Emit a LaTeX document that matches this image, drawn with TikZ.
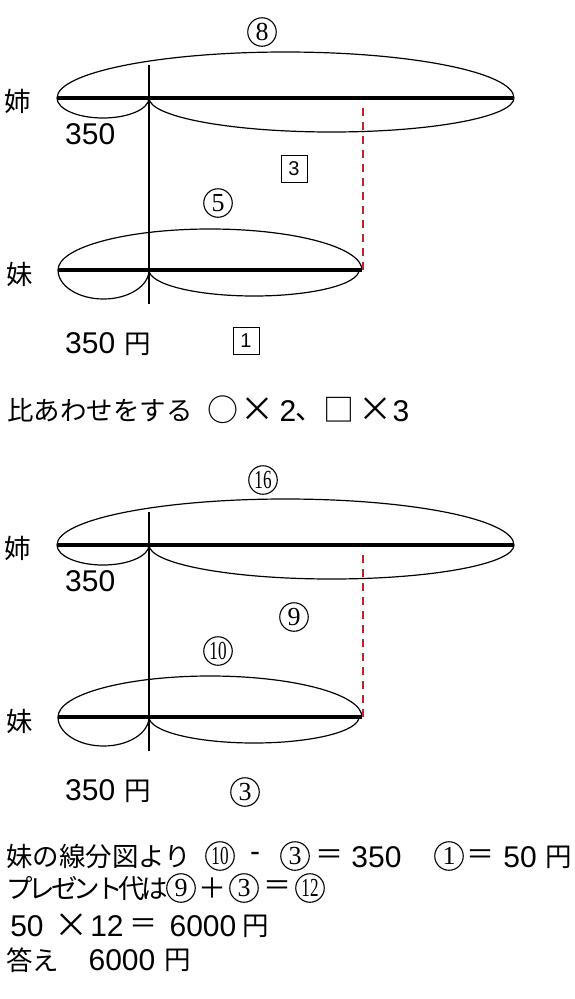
\documentclass[tikz,border=0pt]{standalone}
\usepackage{fontspec}
\usepackage{graphicx}
\setmainfont{Liberation Sans}
\newfontfamily\jp{Noto Sans CJK JP}
\newfontfamily\rmser{Liberation Serif}
\newcommand{\twod}[1]{\scalebox{0.66}[1]{#1}}
\definecolor{dashred}{RGB}{196,32,48}
\begin{document}
\begin{tikzpicture}[x=1pt,y=-1pt,
  barline/.style={line width=4pt},
  arcline/.style={line width=1.2pt},
  vline/.style={line width=1.6pt},
  reddash/.style={draw=dashred,line width=2pt,dash pattern=on 8pt off 6pt},
  num/.style={font=\fontsize{30}{32}\selectfont,inner sep=0pt},
  jpt/.style={font=\jp\fontsize{26.5}{28}\selectfont,inner sep=0pt},
  circ/.style={circle,draw,line width=1.1pt,minimum size=28.5pt,inner sep=0pt,font=\rmser\fontsize{26}{26}\selectfont},
  sym/.style={font=\jp\fontsize{28}{30}\selectfont,inner sep=0pt},
  shp/.style={font=\jp\fontsize{31}{33}\selectfont,inner sep=0pt},
  bigx/.style={font=\jp\fontsize{34}{36}\selectfont,inner sep=0pt},
  boxn/.style={draw,line width=0.8pt,minimum width=26pt,minimum height=27pt,inner sep=0pt,font=\fontsize{20}{21}\selectfont}]
\useasboundingbox[fill=white] (0,0) rectangle (574,999);

\foreach \k/\d in {1/0,2/447}{
 \begin{scope}[shift={(0,\d)}]
  \coordinate (A\k) at (57,98);  \coordinate (M\k) at (149,98);  \coordinate (E\k) at (514,98);
  \coordinate (B\k) at (58,270); \coordinate (N\k) at (149,270); \coordinate (F\k) at (362,270);
  \coordinate (T\k) at (149,65); \coordinate (U\k) at (149,304);
  \coordinate (R\k) at (363,108); \coordinate (S\k) at (363,270);
  \draw[arcline] (A\k) arc[start angle=180,end angle=360,x radius=228.5,y radius=46];
  \draw[arcline] (A\k) arc[start angle=180,end angle=0,x radius=46,y radius=20];
  \draw[arcline] (M\k) arc[start angle=180,end angle=0,x radius=182.5,y radius=34];
  \draw[arcline] (B\k) arc[start angle=180,end angle=360,x radius=152,y radius=41];
  \draw[arcline] (B\k) arc[start angle=180,end angle=0,x radius=45.5,y radius=29];
  \draw[arcline] (N\k) arc[start angle=180,end angle=0,x radius=105,y radius=26];
  \draw[barline] (A\k) -- (E\k);
  \draw[barline] (B\k) -- (F\k);
  \draw[vline] (T\k) -- (U\k);
  \draw[reddash] (R\k) -- (S\k);
  \node[jpt] (ane\k) at (18,101) {姉};
  \node[jpt] (imo\k) at (20,274) {妹};
  \node[num,anchor=base west] (v\k) at (65,144) {350};
  \node[num,anchor=base west] (w\k) at (65,353) {350\hspace{9pt}{\jp\fontsize{26.5}{28}\selectfont 円}};
 \end{scope}}

% diagram 1 labels
\node[circ] (c8) at (262,32) {8};
\node[circ] (c5) at (218,203) {5};
\node[boxn] (b3) at (294,169) {3};
\node[boxn] (b1) at (246,341) {1};

% ratio line
\node[jpt,anchor=west] (r0) at (7,410) {比あわせをする};
\node[shp] (r1) at (223,410) {○};
\node[bigx] (r2) at (257,410) {×};
\node[num] (r3) at (288,411) {2};
\node[sym] (r4) at (309,417) {、};
\node[shp] (r5) at (339,410) {□};
\node[bigx] (r6) at (375,410) {×};
\node[num] (r7) at (401,411) {3};

% diagram 2 labels
\node[circ] (c16) at (263,480) {\twod{16}};
\node[circ] (c10) at (218,651) {\twod{10}};
\node[circ] (c9) at (294,617) {9};
\node[circ] (c3) at (245,792) {3};

% bottom text
\node[jpt,anchor=west] (l1a) at (6,856) {妹の線分図より};
\node[circ] (l1b) at (220,856) {\twod{10}};
\node[num] (l1c) at (255,857) {-};
\node[circ] (l1d) at (295,856) {3};
\node[sym] (l1e) at (329,857) {＝};
\node[num] (l1f) at (376.5,857) {350};
\node[circ] (l1g) at (449,856) {1};
\node[sym] (l1h) at (480,857) {＝};
\node[num] (l1i) at (520,857) {50};
\node[jpt] (l1j) at (559,857) {円};

\node[jpt,anchor=west] (l2a) at (6,888) {\addfontfeature{LetterSpace=-15}プレゼント代は};
\node[circ] (l2b) at (181,888) {9};
\node[sym] (l2c) at (212,888) {＋};
\node[circ] (l2d) at (244,888) {3};
\node[sym] (l2e) at (277,888) {＝};
\node[circ] (l2f) at (310,888) {\twod{12}};

\node[num] (l3a) at (27,926) {50};
\node[bigx] (l3b) at (71,926) {×};
\node[num] (l3c) at (107,926) {12};
\node[sym] (l3d) at (143,926) {＝};
\node[num] (l3e) at (203,926) {6000};
\node[jpt] (l3f) at (256,926) {円};

\node[jpt,anchor=west] (l4a) at (6,960) {答え};
\node[num] (l4b) at (122,960) {6000};
\node[jpt] (l4c) at (178,960) {円};
\end{tikzpicture}
\end{document}
